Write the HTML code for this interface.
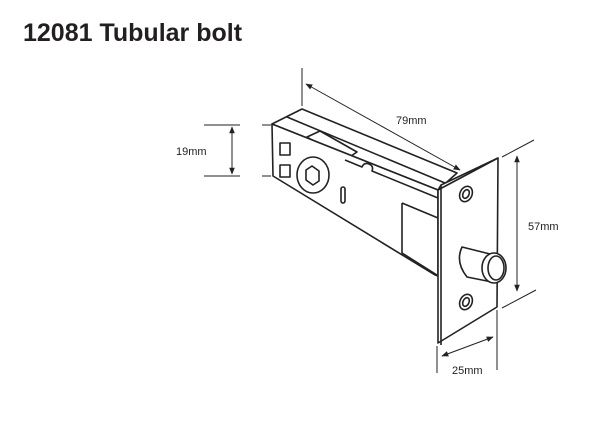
<!DOCTYPE html>
<html><head><meta charset="utf-8"><style>
html,body{margin:0;padding:0;background:#fff;width:609px;height:445px;overflow:hidden}
svg{display:block}
text{font-family:"Liberation Sans",sans-serif}
</style></head><body>
<svg width="609" height="445" viewBox="0 0 609 445" xmlns="http://www.w3.org/2000/svg">
<defs>
<marker id="a" viewBox="0 0 10 10" refX="9" refY="5" markerWidth="7" markerHeight="7" orient="auto-start-reverse"><path d="M0,1 L10,5 L0,9 z" fill="#222"/></marker>
</defs>
<text x="23" y="41" font-size="25" font-weight="bold" fill="#231f20">12081 Tubular bolt</text>
<g stroke="#222" fill="none" stroke-width="1.6" stroke-linejoin="round">
<path d="M272,124 L302,109 L457,173 L438,190 Z" fill="#fff"/>
<path d="M287,117 L445,183"/>
<path d="M307,137 L320,131 L357,152 L345,160 Z"/>
<path d="M272,124 L438,190 L438,276 L435,275 L273,176 Z" fill="#fff"/>
<path d="M345,160 L362,167 Q364,162 369,164 Q374,166 372,171 L438,198"/>
<path d="M402,203 L402,253 L437,275 M402,203 L438,218"/>
<rect x="280" y="143" width="10" height="12"/>
<rect x="280" y="165" width="10" height="12"/>
<ellipse cx="313" cy="175" rx="16" ry="18"/>
<path d="M306,170 L312,166 L319,171 L319,181 L313,185 L306,180 Z"/>
<rect x="341" y="187" width="4" height="16" rx="2"/>
<path d="M438,190 L441,185 L498,158 L497,307 L438,343 Z" fill="#fff"/>
<path d="M438,190 L498,158 M441,185 L441,345"/>
<ellipse cx="466" cy="194" rx="6" ry="8" transform="rotate(25 466 194)"/>
<ellipse cx="466" cy="194" rx="3" ry="4.5" transform="rotate(25 466 194)"/>
<ellipse cx="466" cy="302" rx="6" ry="8" transform="rotate(25 466 302)"/>
<ellipse cx="466" cy="302" rx="3" ry="4.5" transform="rotate(25 466 302)"/>
<path d="M462,247 L490,254 L492,282 L467,277 Q455,262 462,247 Z" fill="#fff"/>
<ellipse cx="494" cy="268" rx="12" ry="15" fill="#fff"/>
<ellipse cx="496" cy="268" rx="8" ry="12"/>
</g>
<g stroke="#222" stroke-width="1" fill="none">
<line x1="302" y1="68" x2="302" y2="106"/>
<line x1="306" y1="84" x2="460" y2="170" marker-start="url(#a)" marker-end="url(#a)"/>
<line x1="262" y1="125" x2="271" y2="125"/>
<line x1="262" y1="176" x2="271" y2="176"/>
<line x1="232" y1="127" x2="232" y2="174" marker-start="url(#a)" marker-end="url(#a)"/>
<line x1="204" y1="125" x2="240" y2="125"/>
<line x1="204" y1="176" x2="240" y2="176"/>
<line x1="502" y1="157" x2="534" y2="140"/>
<line x1="502" y1="308" x2="536" y2="290"/>
<line x1="517" y1="156" x2="517" y2="291" marker-start="url(#a)" marker-end="url(#a)"/>
<line x1="437" y1="346" x2="437" y2="373"/>
<line x1="497" y1="310" x2="497" y2="370"/>
<line x1="442" y1="356" x2="493" y2="337" marker-start="url(#a)" marker-end="url(#a)"/>
</g>
<g font-size="11" fill="#222">
<text x="396" y="124">79mm</text>
<text x="176" y="155">19mm</text>
<text x="528" y="230">57mm</text>
<text x="452" y="374">25mm</text>
</g>
</svg>
</body></html>
